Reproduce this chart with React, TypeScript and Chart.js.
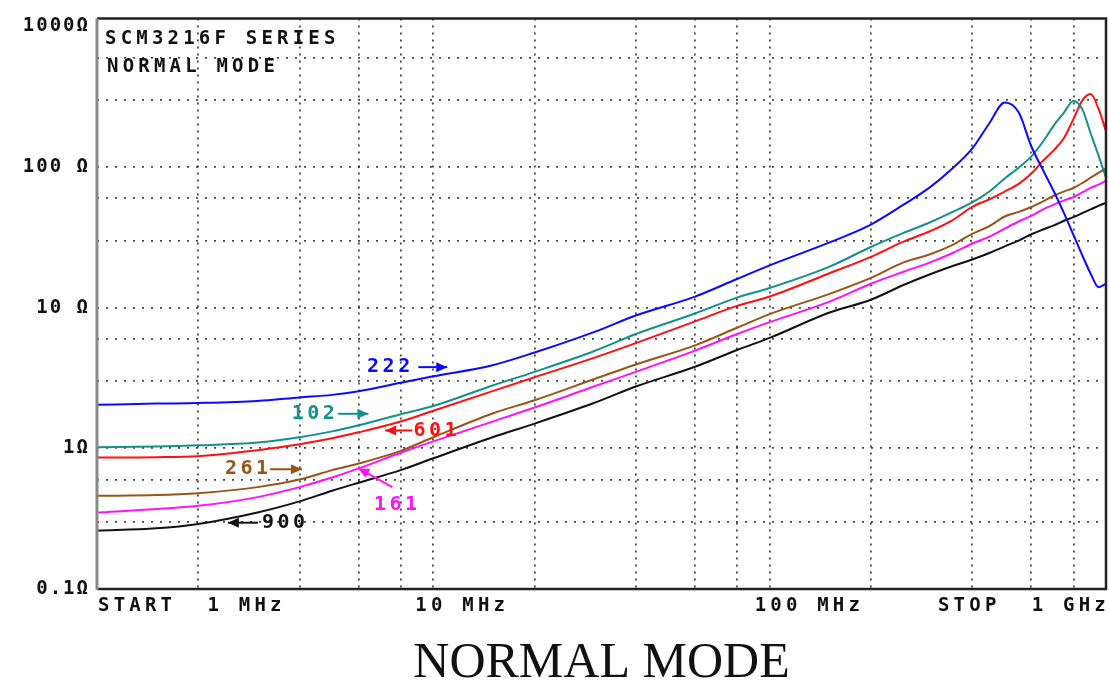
import React, { useEffect, useRef } from 'react';
import { Chart, registerables } from 'chart.js';

Chart.register(...registerables);

// ---- data ----
const FREQ_MHZ = [1, 1.5, 2, 3, 4, 5, 6, 8, 10, 15, 20, 30, 40, 60, 80, 100, 150, 200, 250, 300, 350, 400, 450, 500, 550, 600, 650, 700, 750, 800, 850, 900, 950, 1000];

const Z_222 = [2.04, 2.08, 2.1, 2.17, 2.3, 2.4, 2.55, 2.93, 3.25, 3.9, 4.8, 6.7, 8.8, 12, 16, 20, 29, 39, 54, 72, 98, 135, 205, 288, 245, 140, 95, 67, 47, 33, 23.6, 17.5, 14, 14.8];
const Z_102 = [1.02, 1.03, 1.05, 1.1, 1.2, 1.32, 1.46, 1.75, 2.0, 2.8, 3.5, 4.9, 6.5, 9.1, 11.8, 13.8, 19.5, 27, 34, 40.5, 48, 56, 67, 83, 99, 119, 152, 198, 244, 295, 258, 174, 121, 84];
const Z_601 = [0.86, 0.865, 0.88, 0.97, 1.07, 1.18, 1.3, 1.55, 1.85, 2.55, 3.2, 4.4, 5.6, 8.0, 10.3, 12, 17.5, 23, 29.5, 35, 42, 52, 59, 67, 76, 90, 111, 132, 161, 219, 297, 330, 260, 180];
const Z_261 = [0.46, 0.465, 0.48, 0.53, 0.6, 0.7, 0.78, 0.96, 1.2, 1.77, 2.2, 3.1, 3.95, 5.4, 7.2, 9.0, 12.5, 16.3, 21, 24, 28, 33.5, 38, 44.5, 48, 52, 57, 62.5, 67, 71, 77, 84, 91, 98];
const Z_161 = [0.35, 0.37, 0.39, 0.45, 0.53, 0.62, 0.72, 0.93, 1.12, 1.55, 1.95, 2.75, 3.5, 4.95, 6.5, 7.9, 11, 14.8, 18, 21, 24.5, 28.5, 32, 36.5, 41, 45, 50, 54, 58, 61, 66, 71, 75, 80];
const Z_900 = [0.26, 0.27, 0.29, 0.35, 0.42, 0.5, 0.57, 0.7, 0.85, 1.2, 1.5, 2.1, 2.75, 3.8, 5.0, 6.1, 9.2, 11.4, 14.5, 17.3, 19.8, 22, 24.5, 27.3, 30, 33.3, 36, 38.5, 41.5, 44, 47, 50, 53, 55.7];

const SERIES_NAMES = ['222', '102', '601', '261', '161', '900'];
const SERIES_VALUES = [Z_222, Z_102, Z_601, Z_261, Z_161, Z_900];
const SERIES_COLORS = ['#0a0aff', '#13908c', '#ff1010', '#9a5418', '#ff10ff', '#111111'];

const X_GRID_MHZ = [1, 2, 4, 6, 8, 10, 20, 40, 60, 80, 100, 200, 400, 600, 800, 1000];
const Y_GRID_OHM = [0.1, 0.3, 0.6, 1, 3, 6, 10, 30, 60, 100, 300, 600, 1000];
const Y_TICK_LABELS = ['0.1Ω', '', '', '1Ω', '', '', '10 Ω', '', '', '100 Ω', '', '', '1000Ω'];
const X_AXIS_LABELS = ['START  1 MHz', '10 MHz', '100 MHz', 'STOP  1 GHz'];
const X_AXIS_LABEL_MHZ = [1, 10, 100, 1000];
const HEADER_LINES = ['SCM3216F SERIES', 'NORMAL MODE'];
const TITLE = 'NORMAL MODE';

// curve tags: text anchor and arrow (frequency MHz, impedance Ω)
const TAG_TEXT_MHZ = [7.35, 4.39, 10.1, 2.78, 7.71, 3.58];
const TAG_TEXT_OHM = [3.78, 1.76, 1.34, 0.711, 0.397, 0.296];
const TAG_ARROW_FROM = [[9.02, 3.78], [5.21, 1.76], [8.66, 1.34], [3.27, 0.711], [7.55, 0.531], [3.01, 0.296]];
const TAG_ARROW_TO = [[11.0, 3.78], [6.41, 1.76], [7.19, 1.34], [4.07, 0.711], [5.98, 0.723], [2.45, 0.296]];

const MONO = '"DejaVu Sans Mono", "Liberation Mono", monospace';

function drawArrow(ctx: CanvasRenderingContext2D, x1: number, y1: number, x2: number, y2: number, color: string) {
  const ang = Math.atan2(y2 - y1, x2 - x1);
  const L = 11;
  const W = 5;
  ctx.strokeStyle = color;
  ctx.fillStyle = color;
  ctx.lineWidth = 2;
  ctx.beginPath();
  ctx.moveTo(x1, y1);
  ctx.lineTo(x2, y2);
  ctx.stroke();
  const bx = x2 - Math.cos(ang) * L;
  const by = y2 - Math.sin(ang) * L;
  ctx.beginPath();
  ctx.moveTo(x2, y2);
  ctx.lineTo(bx + Math.sin(ang) * W, by - Math.cos(ang) * W);
  ctx.lineTo(bx - Math.sin(ang) * W, by + Math.cos(ang) * W);
  ctx.closePath();
  ctx.fill();
}

const panelPlugin = {
  id: 'panelText',
  beforeDraw(chart: any) {
    chart.ctx.letterSpacing = '2px';
  },
  afterDraw(chart: any) {
    const ctx: CanvasRenderingContext2D & { letterSpacing?: string } = chart.ctx;
    const a = chart.chartArea;
    const xs = chart.scales.x;
    const ys = chart.scales.y;
    ctx.save();
    // frame
    ctx.setLineDash([]);
    ctx.strokeStyle = '#222';
    ctx.lineWidth = 2.5;
    ctx.beginPath();
    ctx.moveTo(a.left, a.top);
    ctx.lineTo(a.right, a.top);
    ctx.lineTo(a.right, a.bottom);
    ctx.lineTo(a.left, a.bottom);
    ctx.stroke();
    ctx.strokeStyle = '#8a8a8a';
    ctx.lineWidth = 3;
    ctx.beginPath();
    ctx.moveTo(a.left, a.top);
    ctx.lineTo(a.left, a.bottom + 1);
    ctx.stroke();

    // analyzer-style text
    ctx.font = `bold 19px ${MONO}`;
    ctx.letterSpacing = '4.2px';
    ctx.fillStyle = '#111';
    ctx.textBaseline = 'middle';
    ctx.textAlign = 'left';
    ctx.fillText(HEADER_LINES[0], a.left + 8, a.top + 21);
    ctx.fillText(HEADER_LINES[1], a.left + 10, a.top + 49);

    const ly = a.bottom + 17;
    ctx.textAlign = 'left';
    ctx.fillText(X_AXIS_LABELS[0], xs.getPixelForValue(X_AXIS_LABEL_MHZ[0]) + 1, ly);
    ctx.fillText(X_AXIS_LABELS[1], xs.getPixelForValue(X_AXIS_LABEL_MHZ[1]) - 18, ly);
    ctx.fillText(X_AXIS_LABELS[2], xs.getPixelForValue(X_AXIS_LABEL_MHZ[2]) - 15, ly);
    ctx.textAlign = 'right';
    ctx.fillText(X_AXIS_LABELS[3], xs.getPixelForValue(X_AXIS_LABEL_MHZ[3]) + 4, ly);

    // curve tags
    ctx.font = `bold 20px ${MONO}`;
    ctx.letterSpacing = '3.5px';
    ctx.textAlign = 'center';
    SERIES_NAMES.forEach((name, i) => {
      const color = SERIES_COLORS[i];
      ctx.fillStyle = color;
      ctx.fillText(name, xs.getPixelForValue(TAG_TEXT_MHZ[i]) + 2, ys.getPixelForValue(TAG_TEXT_OHM[i]));
      drawArrow(
        ctx,
        xs.getPixelForValue(TAG_ARROW_FROM[i][0]), ys.getPixelForValue(TAG_ARROW_FROM[i][1]),
        xs.getPixelForValue(TAG_ARROW_TO[i][0]), ys.getPixelForValue(TAG_ARROW_TO[i][1]),
        color
      );
    });

    // bottom title
    ctx.letterSpacing = '0px';
    ctx.fillStyle = '#111';
    ctx.textAlign = 'center';
    ctx.textBaseline = 'alphabetic';
    ctx.font = '50px "Liberation Serif", "Times New Roman", serif';
    ctx.fillText(TITLE, (a.left + a.right) / 2, 677);
    ctx.restore();
    ctx.letterSpacing = '0px';
  },
};

export default function App() {
  const canvasRef = useRef<HTMLCanvasElement | null>(null);

  useEffect(() => {
    document.body.style.margin = '0';
    const canvas = canvasRef.current;
    if (!canvas) return;

    const datasets = SERIES_NAMES.map((name, i) => ({
      label: name,
      data: FREQ_MHZ.map((f, j) => ({ x: f, y: SERIES_VALUES[i][j] })),
      borderColor: SERIES_COLORS[i],
      backgroundColor: SERIES_COLORS[i],
      borderWidth: 2,
      pointRadius: 0,
      cubicInterpolationMode: 'monotone' as const,
      fill: false,
    }));

    const gridColor = 'rgba(25,25,25,0.8)';

    const chart = new Chart(canvas, {
      type: 'line',
      data: { datasets },
      plugins: [panelPlugin],
      options: {
        animation: false,
        responsive: false,
        events: [],
        layout: { padding: { top: 14, right: 3, bottom: 91, left: 0 } },
        plugins: {
          legend: { display: false },
          tooltip: { enabled: false },
          title: { display: false },
        },
        scales: {
          x: {
            type: 'logarithmic',
            min: 1,
            max: 1000,
            afterBuildTicks: (s: any) => {
              s.ticks = X_GRID_MHZ.map((v) => ({ value: v }));
            },
            ticks: { display: false },
            grid: {
              drawTicks: false,
              lineWidth: 1.8,
              color: (c: any) =>
                c.tick && (c.tick.value === 1 || c.tick.value === 1000) ? 'rgba(0,0,0,0)' : gridColor,
            },
            border: { display: false, dash: [2, 5] },
          },
          y: {
            type: 'logarithmic',
            min: 0.1,
            max: 1140,
            afterBuildTicks: (s: any) => {
              s.ticks = Y_GRID_OHM.map((v) => ({ value: v }));
            },
            afterFit: (s: any) => {
              s.width = 97;
            },
            ticks: {
              autoSkip: false,
              padding: 7,
              color: '#111',
              font: { family: 'DejaVu Sans Mono', size: 19, weight: 'bold' },
              callback: (_v: any, i: number) => Y_TICK_LABELS[i],
            },
            grid: {
              drawTicks: false,
              lineWidth: 1.8,
              color: (c: any) =>
                c.tick && (c.tick.value === 0.1 || c.tick.value === 1000) ? 'rgba(0,0,0,0)' : gridColor,
            },
            border: { display: false, dash: [2, 7] },
          },
        },
      },
    });

    return () => {
      chart.destroy();
    };
  }, []);

  return (
    <div style={{ width: 1109, height: 680, background: '#fff' }}>
      <canvas ref={canvasRef} width={1109} height={680} style={{ display: 'block' }} />
    </div>
  );
}
